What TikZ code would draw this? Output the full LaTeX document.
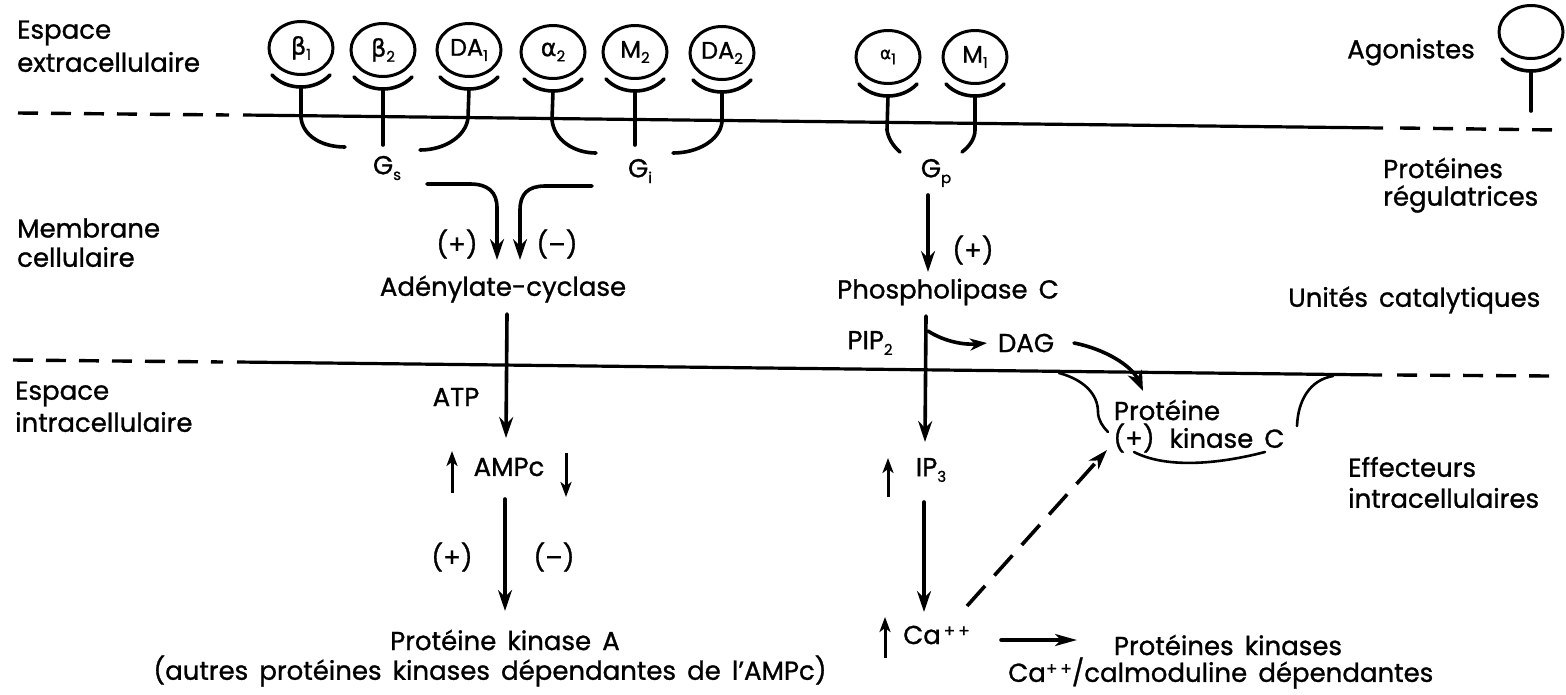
\documentclass[tikz,border=0pt]{standalone}
\usepackage{fontspec}
\setmainfont[FakeBold=1,WordSpace=1.6]{Poppins}
\newfontfamily\grk[FakeBold=1]{DejaVu Sans}
\usetikzlibrary{shapes.geometric,arrows.meta}
\newcommand{\sbs}[1]{\raisebox{-0.4ex}{\fontsize{15}{15}\selectfont #1}}
\newcommand{\spsc}[1]{\raisebox{0.5ex}{\fontsize{17}{17}\selectfont #1}}
\newcommand{\zb}[1]{\makebox[0pt][c]{#1}}
\tikzset{
  x=1pt,y=-1pt,
  lbl/.style={font=\fontsize{26}{30}\selectfont,inner sep=0pt,text=black,align=center},
  lft/.style={lbl,anchor=west,align=left},
  rec/.style={ellipse,draw,line width=3pt,minimum width=64pt,minimum height=53pt,inner sep=0pt,font=\fontsize{24}{28}\selectfont},
  ln/.style={line width=3.6pt,line cap=round},
  thin ln/.style={line width=2.6pt,line cap=round},
  arr/.style={ln,-{Stealth[length=21pt,width=14pt,inset=7pt]}},
  sarr/.style={line width=3pt,-{Stealth[length=15pt,width=11pt,inset=4pt]}},
  mem/.style={line width=3.2pt},
  memd/.style={line width=3.4pt,dash pattern=on 20pt off 13pt},
}
\newcommand{\receptor}[4]{%
  \node[rec] (#1) at (#2,#3) {\zb{#4}};
  \draw[ln] (#2-29,#3+27) .. controls (#2-14,#3+43) and (#2+14,#3+43) .. (#2+29,#3+27);
  \coordinate (#1c) at (#2,#3+39);
}
\begin{document}
\begin{tikzpicture}
\useasboundingbox (0,0) rectangle (1566,694);
\fill[white] (0,0) rectangle (1566,694);
% membranes
\coordinate (m1a) at (18,113); \coordinate (m1b) at (243,115); \coordinate (m1c) at (1383,128); \coordinate (m1d) at (1556,130);
\coordinate (m2a) at (13,360); \coordinate (m2b) at (237,362); \coordinate (m2c) at (1382,375); \coordinate (m2d) at (1549,376);
\draw[memd] (m1a) -- ([xshift=-14pt]m1b);
\draw[mem] (m1b) -- (m1c);
\draw[memd] ([xshift=17pt]m1c) -- (m1d);
\draw[memd] (m2a) -- ([xshift=-14pt]m2b);
\draw[mem] (m2b) -- (m2c);
\draw[memd] ([xshift=15pt]m2c) -- (m2d);
% receptors
\receptor{b1}{301}{48}{{\grk β}\sbs{1}}
\receptor{b2}{383}{50}{{\grk β}\sbs{2}}
\receptor{da1}{469}{50}{DA\sbs{1}}
\receptor{a2}{553}{52}{{\grk α}\sbs{2}}
\receptor{m2}{635}{52}{M\sbs{2}}
\receptor{da2}{722}{53}{DA\sbs{2}}
\receptor{a1}{888}{57}{{\fontsize{17}{17}\selectfont\grk α}\sbs{1}}
\receptor{m1}{975}{57}{M\sbs{1}}
\receptor{ag}{1531}{32}{}
\coordinate (agb) at (1531,111);
% stems
\coordinate (t1) at (345,147);\coordinate (t2) at (383,145);\coordinate (t3) at (420,150);
\coordinate (t4) at (596,153);\coordinate (t5) at (635,145);\coordinate (t6) at (673,153);
\coordinate (t7) at (900,152);\coordinate (t8) at (962,152);
\draw[ln] (b1c) -- (301,118) .. controls (303,136) and (322,147) .. (t1);
\draw[ln] (b2c) -- (t2);
\draw[ln] (da1c) -- (468,118) .. controls (466,136) and (445,150) .. (t3);
\draw[ln] (a2c) -- (552,120) .. controls (554,140) and (574,153) .. (t4);
\draw[ln] (m2c) -- (t5);
\draw[ln] (da2c) -- (722,122) .. controls (720,140) and (698,153) .. (t6);
\draw[ln] (a1c) -- (887,130) .. controls (888,138) and (893,146) .. (t7);
\draw[ln] (m1c) -- (975,130) .. controls (975,138) and (970,146) .. (t8);
\draw[ln] (agc) -- (agb);
% G labels
\node[lbl] (gs) at (387,168) {G\sbs{s}};
\node[lbl] (gi) at (640,171) {G\sbs{i}};
\node[lbl] (gp) at (936,173) {G\sbs{p}};
\node[lbl] (ac) at (503,289) {Adénylate-cyclase};
\node[lbl] (plus1) at (457,244) {(+)};
\node[lbl] (minus1) at (557,244) {(–)};
\coordinate (gsa) at (427,184); \coordinate (gia) at (592,186);
\coordinate (aca) at (497,260); \coordinate (acb) at (520,260);
\draw[arr] (gsa) -- (470,184) .. controls (488,184) and (497,192) .. (497,208) -- (aca);
\draw[arr] (gia) -- (545,186) .. controls (528,186) and (520,194) .. (520,210) -- (acb);
% left column
\node[lbl] (atp) at (456,397) {ATP};
\node[lbl] (amp) at (509,467) {AMPc};
\node[lbl] (plus2) at (452,557) {(+)};
\node[lbl] (minus2) at (554,557) {(–)};
\node[lbl] (pka) at (505,640) {Protéine kinase A};
\node[lbl] (pkb) at (490,671) {(autres protéines kinases dépendantes de l'AMPc)};
\draw[arr] (507,314) -- (506,438);
\draw[arr] (505,499) -- (505,611);
\coordinate (ua) at (452,493); \coordinate (ub) at (452,451);
\draw[sarr] (ua) -- (ub);
\coordinate (da) at (566,453); \coordinate (db) at (566,497);
\draw[sarr] (da) -- (db);
% right column
\node[lbl] (plus3) at (973,250) {(+)};
\node[lbl] (pc) at (948,292) {Phospholipase C};
\node[lbl] (pip) at (870,343) {PIP\sbs{2}};
\node[lbl] (dag) at (1026,343) {DAG};
\node[lbl] (ip) at (931,470) {IP\sbs{3}};
\node[lft] (ca) at (903,635) {Ca\spsc{\,+\,+}};
\node[lbl] (pr) at (1167,410) {Protéine};
\node[lbl] (plus4) at (1134,438) {(+)};
\node[lbl] (kc) at (1227,438) {kinase C};
\node[lbl] (pkc1) at (1228,645) {Protéines kinases};
\node[lft] (pkc2) at (1008,673) {Ca\spsc{+\,+}/calmoduline dépendantes};
\draw[arr] (928,195) -- (928,272);
\draw[arr] (926,316) -- (925,442);
\draw[ln,-{Stealth[length=17pt,width=12pt,inset=5pt]}] (928,331) .. controls (945,342) and (965,345) .. (987,343);
\draw[ln,-{Stealth[length=20pt,width=15pt,inset=6pt]}] (1074,343) .. controls (1105,349) and (1132,366) .. (1143,391);
\draw[arr] (924,502) -- (924,612);
\draw[line width=3.6pt,dash pattern=on 27pt off 14pt,-{Stealth[length=20pt,width=13pt,inset=6pt]}] (967,606) -- (1107,450);
\draw[ln,-{Stealth[length=22pt,width=12pt,inset=6pt]}] (1001,640) -- (1077,640);
\coordinate (u3a) at (888,497); \coordinate (u3b) at (888,458);
\draw[sarr] (u3a) -- (u3b);
\coordinate (u4a) at (885,658); \coordinate (u4b) at (885,617);
\draw[sarr] (u4a) -- (u4b);
% PKC outline
\draw[thin ln] (1059,373) .. controls (1085,380) and (1098,395) .. (1098,412) .. controls (1098,420) and (1103,427) .. (1108,432);
\draw[thin ln] (1333,376) .. controls (1310,380) and (1298,400) .. (1297,426);
\draw[thin ln] (1134,452) .. controls (1165,468) and (1215,465) .. (1265,452);
% side labels
\node[lft] (e1) at (17,33) {Espace};
\node[lft] (e2) at (17,62) {extracellulaire};
\node[lft] (mb1) at (17,228) {Membrane};
\node[lft] (mb2) at (17,257) {cellulaire};
\node[lft] (i1) at (15,394) {Espace};
\node[lft] (i2) at (15,422) {intracellulaire};
\node[lbl] (agn) at (1411,52) {Agonistes};
\node[lft] (r1) at (1383,168) {Protéines};
\node[lft] (r2) at (1383,199) {régulatrices};
\node[lft] (u1) at (1288,300) {Unités catalytiques};
\node[lft] (f1) at (1348,467) {Effecteurs};
\node[lft] (f2) at (1348,498) {intracellulaires};
\end{tikzpicture}
\end{document}
